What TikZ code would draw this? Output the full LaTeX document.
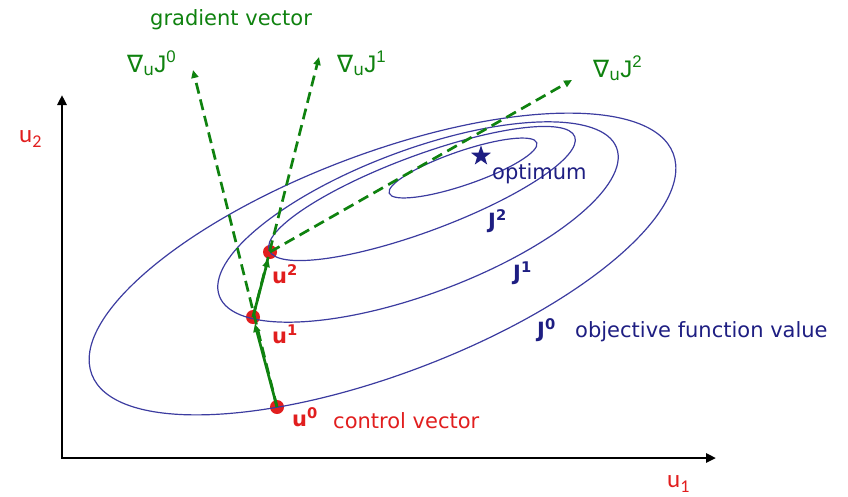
\documentclass[tikz,border=0pt]{standalone}
\usepackage{fontspec}
\setmainfont{DejaVu Sans}
\newfontfamily\calfont{Carlito}
\newfontfamily\arialfont{Liberation Sans}
\usetikzlibrary{arrows.meta,shapes.geometric}
\definecolor{ellblue}{RGB}{60,60,160}
\definecolor{navy}{RGB}{30,30,130}
\definecolor{grn}{RGB}{15,130,15}
\definecolor{rd}{RGB}{225,30,30}
\begin{document}
\begin{tikzpicture}[x=1pt,y=-1pt,
  ell/.style={draw=ellblue,line width=1.2pt},
  axis/.style={line width=2.8pt,black,{Triangle[length=10pt,width=9pt]}-{Triangle[length=10pt,width=9pt]}},
  grad/.style={draw=grn,line width=2.7pt,dash pattern=on 11pt off 6pt,-{Triangle[length=8pt,width=7pt]}},
  stepar/.style={draw=grn,line width=2.7pt,-{Triangle[length=8pt,width=7pt]}},
  dot/.style={circle,fill=rd,inner sep=0pt,minimum size=14pt},
  txt/.style={inner sep=0pt,anchor=base west,font=\fontsize{21}{25}\selectfont},
  btxt/.style={inner sep=0pt,anchor=base west,font=\bfseries\fontsize{21}{25}\selectfont},
  gtxt/.style={txt,text=grn},
  rtxt/.style={txt,text=rd},
  ntxt/.style={txt,text=navy},
  gl/.style={inner sep=0pt,anchor=base west,text=grn,font=\fontsize{24}{28}\selectfont},
  axl/.style={inner sep=0pt,anchor=base west,text=rd,font=\calfont\fontsize{25}{29}\selectfont}
]
\useasboundingbox (0,0) rectangle (848,496);
% axes
\coordinate (O) at (62,458);
\coordinate (Ytop) at (62,95);
\coordinate (Xend) at (716,458);
\draw[axis] (Ytop) -- (O) -- (Xend);
\node[axl] (lu2) at (19,142) {u\raisebox{-5pt}{\fontsize{18}{18}\selectfont 2}};
\node[axl] (lu1) at (667,487) {u\raisebox{-5pt}{\fontsize{18}{18}\selectfont 1}};
% dots
\node[dot] (u0) at (277,407) {};
\node[dot] (u1) at (253,317) {};
\node[dot] (u2) at (270,252) {};
% ellipses
\draw[ell,rotate around={20.8:(382.5,264)}] (382.5,264) ellipse [x radius=311pt,y radius=110pt];
\draw[ell,rotate around={20.45:(418,222)}] (418,222) ellipse [x radius=212pt,y radius=72pt];
\draw[ell,rotate around={20.4:(422,193.5)}] (422,193.5) ellipse [x radius=163pt,y radius=38pt];
\draw[ell,rotate around={18.9:(463,168)}] (463,168) ellipse [x radius=78pt,y radius=17pt];
% star
\node[star,star points=5,star point ratio=2.5,fill=navy,minimum size=21pt,inner sep=0pt] (opt) at (481,156) {};
% gradient arrows
\coordinate (g0) at (193,70);
\coordinate (g1) at (319,57);
\coordinate (g2) at (572,80);
\draw[grad] (u0.center) -- (g0);
\draw[grad] (u1.center) -- (g1);
\draw[grad] (u2.center) -- (g2);
% steps
\draw[stepar] (u0.center) -- (u1);
\draw[stepar] (u1.center) -- (u2);
% labels
\node[gtxt] (gv) at (150,25) {gradient vector};
\node[gl] (lg0) at (127,72) {∇\textsubscript{u}{\arialfont J\textsuperscript{0}}};
\node[gl] (lg1) at (337,72) {∇\textsubscript{u}{\arialfont J\textsuperscript{1}}};
\node[gl] (lg2) at (593,77) {∇\textsubscript{u}{\arialfont J\textsuperscript{2}}};
\node[btxt,text=rd] (l0) at (292,426) {u\textsuperscript{0}};
\node[btxt,text=rd] (l1) at (272,343) {u\textsuperscript{1}};
\node[btxt,text=rd] (l2) at (272,283) {u\textsuperscript{2}};
\node[rtxt] (cv) at (333,428) {control vector};
\node[ntxt] (lopt) at (492,179) {optimum};
\node[btxt,text=navy] (j2) at (488,228) {J\textsuperscript{2}};
\node[btxt,text=navy] (j1) at (513,280) {J\textsuperscript{1}};
\node[btxt,text=navy] (j0) at (537,337) {J\textsuperscript{0}};
\node[ntxt] (ofv) at (575,337) {objective function value};
\end{tikzpicture}
\end{document}
